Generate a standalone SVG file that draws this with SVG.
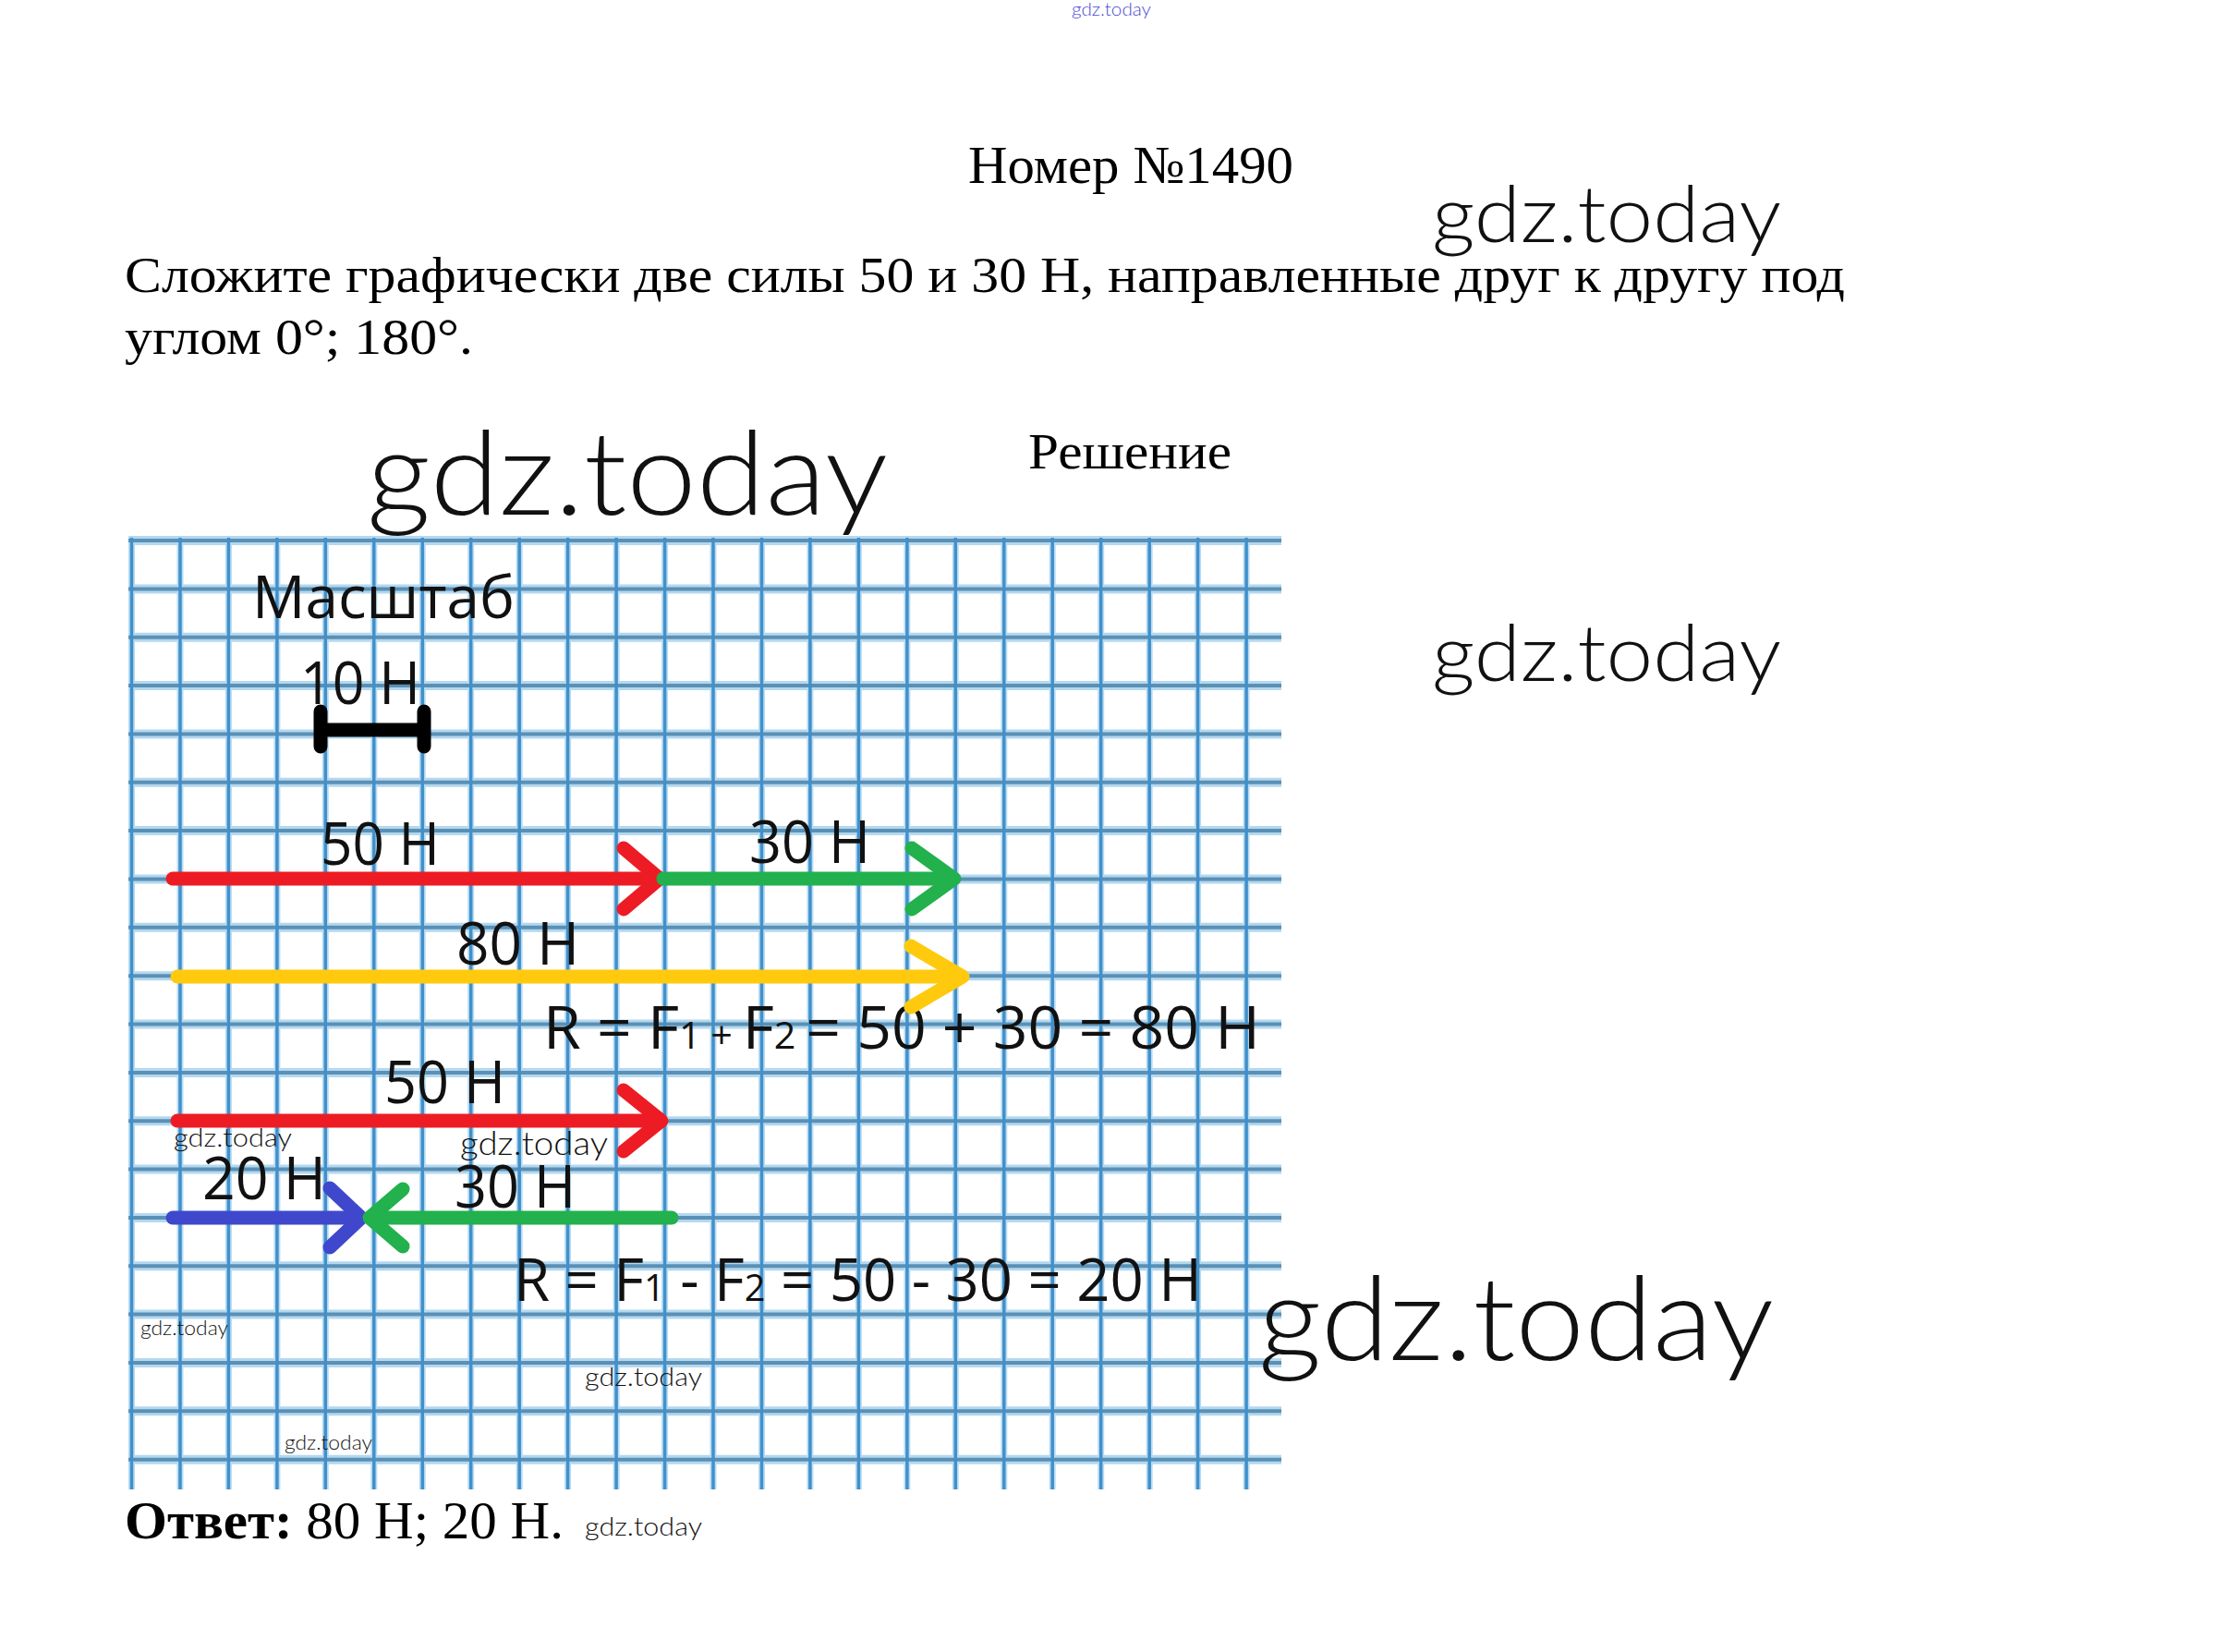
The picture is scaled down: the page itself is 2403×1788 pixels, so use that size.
<svg xmlns="http://www.w3.org/2000/svg" xmlns:xlink="http://www.w3.org/1999/xlink" width="2403" height="1788" viewBox="0 0 2403 1788">
<style>
.serif{font-family:"Liberation Serif","Times New Roman",serif;fill:#000}
.lbl{font-family:"Open Sans","Liberation Sans",sans-serif;fill:#111;font-size:64px}
.wm{font-family:Lato,"Open Sans",sans-serif;font-weight:300;fill:#111}
.hhalo{fill:none;stroke:#b3d8ef;stroke-width:10}
.hcore{fill:none;stroke:#5b90b5;stroke-width:4}
.vhalo{fill:none;stroke:#b8dcf2;stroke-width:7}
.vcore{fill:none;stroke:#4190cb;stroke-width:3.5}
.arr{fill:none;stroke-width:15;stroke-linecap:round;stroke-linejoin:round}
.red{stroke:#ed1c24}.green{stroke:#22b14c}.yellow{stroke:#ffc90e}.blue{stroke:#3f48cc}
.bar{fill:none;stroke:#000;stroke-width:15;stroke-linecap:round}
</style>
<defs>
<path id="hlines" d="M139 585H1387M139 637.4H1387M139 689.7H1387M139 742.1H1387M139 794.4H1387M139 846.8H1387M139 899.1H1387M139 951.5H1387M139 1003.8H1387M139 1056.2H1387M139 1108.5H1387M139 1160.9H1387M139 1213.2H1387M139 1265.6H1387M139 1317.9H1387M139 1370.3H1387M139 1422.6H1387M139 1475H1387M139 1527.3H1387M139 1579.7H1387"/>
<path id="vlines" d="M142.5 582V1612M195 582V1612M247.4 582V1612M299.9 582V1612M352.3 582V1612M404.8 582V1612M457.3 582V1612M509.7 582V1612M562.2 582V1612M614.6 582V1612M667.1 582V1612M719.6 582V1612M772 582V1612M824.5 582V1612M876.9 582V1612M929.4 582V1612M981.9 582V1612M1034.3 582V1612M1086.8 582V1612M1139.2 582V1612M1191.7 582V1612M1244.2 582V1612M1296.6 582V1612M1349.1 582V1612"/>
</defs>
<rect width="2403" height="1788" fill="#fff"/>

<g id="header">
<text class="wm" x="1160" y="17" font-size="19" textLength="86" lengthAdjust="spacingAndGlyphs" style="fill:#4a4ad8">gdz.today</text>
<text class="serif" x="1048" y="198" font-size="58" textLength="352" lengthAdjust="spacingAndGlyphs">Номер №1490</text>
<text class="serif" x="135" y="316" font-size="55" textLength="1862" lengthAdjust="spacingAndGlyphs">Сложите графически две силы 50 и 30 Н, направленные друг к другу под</text>
<text class="serif" x="135" y="383" font-size="55" textLength="377" lengthAdjust="spacingAndGlyphs">углом 0°; 180°.</text>
<text class="serif" x="1113" y="507" font-size="55" textLength="220" lengthAdjust="spacingAndGlyphs">Решение</text>
</g>

<g id="grid">
<use xlink:href="#hlines" class="hhalo"/>
<use xlink:href="#vlines" class="vhalo"/>
<use xlink:href="#hlines" class="hcore"/>
<use xlink:href="#vlines" class="vcore"/>
</g>

<g id="scale">
<text class="lbl" x="273" y="669" textLength="284" lengthAdjust="spacingAndGlyphs">Масштаб</text>
<text class="lbl" x="325" y="762" textLength="130" lengthAdjust="spacingAndGlyphs">10 Н</text>
<path class="bar" d="M347 790H459M347 770V808M459 770V808"/>
</g>

<g id="labels">
<text class="lbl" x="347" y="936" textLength="129" lengthAdjust="spacingAndGlyphs">50 Н</text>
<text class="lbl" x="811" y="934" textLength="131" lengthAdjust="spacingAndGlyphs">30 Н</text>
<text class="lbl" x="494" y="1044" textLength="133" lengthAdjust="spacingAndGlyphs">80 Н</text>
<text class="lbl" x="588" y="1135" textLength="776" lengthAdjust="spacingAndGlyphs">R = F<tspan font-size="40">1</tspan><tspan font-size="40"> + </tspan>F<tspan font-size="40">2 </tspan> = 50 + 30 = 80 Н</text>
<text class="lbl" x="416" y="1194" textLength="131" lengthAdjust="spacingAndGlyphs">50 Н</text>
<text class="lbl" x="219" y="1298" textLength="134" lengthAdjust="spacingAndGlyphs">20 Н</text>
<text class="lbl" x="492" y="1307" textLength="131" lengthAdjust="spacingAndGlyphs">30 Н</text>
<text class="lbl" x="556" y="1408" textLength="745" lengthAdjust="spacingAndGlyphs">R = F<tspan font-size="40">1</tspan> - F<tspan font-size="40">2</tspan> = 50 - 30 = 20 Н</text>
</g>

<g id="connectors">
<g id="f1-50">
<path class="arr red" d="M187 951H712"/>
<path class="arr red" d="M675 918L714 951L675 984"/>
</g>
<g id="f2-30">
<path class="arr green" d="M718 951H1030"/>
<path class="arr green" d="M987 918L1033 951L987 984"/>
</g>
<g id="r-80">
<path class="arr yellow" d="M192 1057H1038"/>
<path class="arr yellow" d="M986 1024L1042 1057L986 1090"/>
</g>
<g id="f1-50b">
<path class="arr red" d="M192 1213H714"/>
<path class="arr red" d="M675 1180L716 1213L675 1246"/>
</g>
<g id="r-20">
<path class="arr blue" d="M187 1318H388"/>
<path class="arr blue" d="M357 1286L391 1318L357 1350"/>
</g>
<g id="f2-30b">
<path class="arr green" d="M727 1318H403"/>
<path class="arr green" d="M436 1287L400 1318L436 1349"/>
</g>
</g>

<g id="watermarks">
<text class="wm" x="1550" y="262" font-size="84" textLength="378" lengthAdjust="spacingAndGlyphs">gdz.today</text>
<text class="wm" x="397" y="557" font-size="126" textLength="564" lengthAdjust="spacingAndGlyphs">gdz.today</text>
<text class="wm" x="1550" y="737" font-size="84" textLength="378" lengthAdjust="spacingAndGlyphs">gdz.today</text>
<text class="wm" x="1362" y="1472" font-size="126" textLength="558" lengthAdjust="spacingAndGlyphs">gdz.today</text>
<text class="wm" x="188" y="1241" font-size="28" textLength="128" lengthAdjust="spacingAndGlyphs">gdz.today</text>
<text class="wm" x="498" y="1250" font-size="36" textLength="160" lengthAdjust="spacingAndGlyphs">gdz.today</text>
<text class="wm" x="152" y="1445" font-size="21" textLength="95" lengthAdjust="spacingAndGlyphs">gdz.today</text>
<text class="wm" x="633" y="1500" font-size="28" textLength="127" lengthAdjust="spacingAndGlyphs">gdz.today</text>
<text class="wm" x="308" y="1569" font-size="21" textLength="95" lengthAdjust="spacingAndGlyphs">gdz.today</text>
<text class="wm" x="633" y="1662" font-size="28" textLength="127" lengthAdjust="spacingAndGlyphs">gdz.today</text>
</g>

<g id="answer">
<text class="serif" x="135" y="1665" font-size="56" textLength="475" lengthAdjust="spacingAndGlyphs"><tspan font-weight="bold">Ответ:</tspan> 80 Н; 20 Н.</text>
</g>
</svg>
